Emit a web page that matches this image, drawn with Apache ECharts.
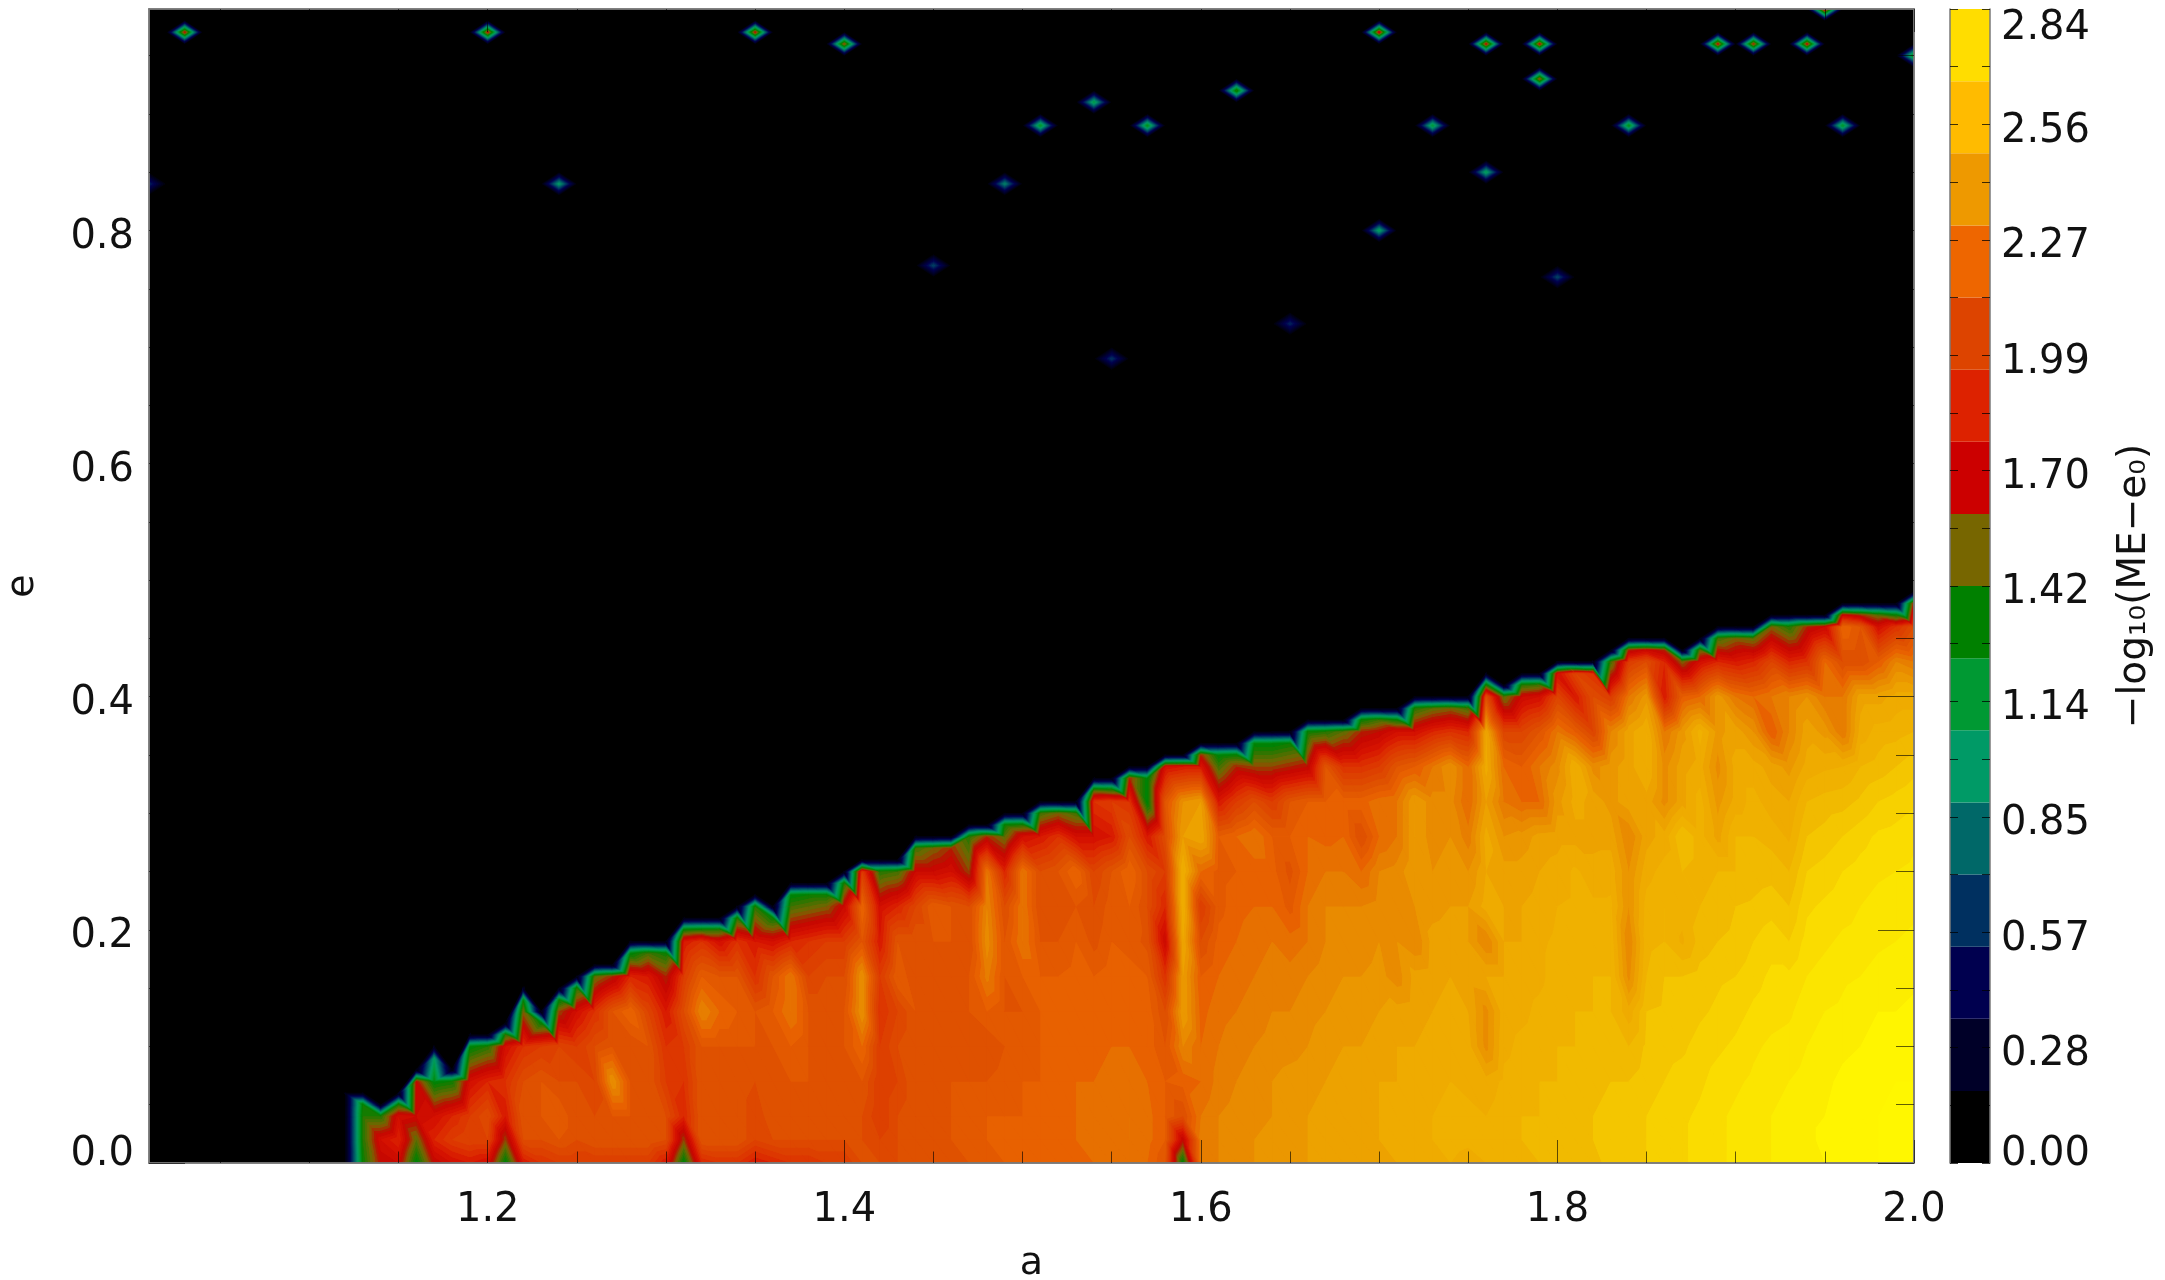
<!DOCTYPE html>
<html><head><meta charset="utf-8"><style>html,body{margin:0;padding:0;background:#fff}#c{width:2165px;height:1280px}</style>
<script src="https://cdn.jsdelivr.net/npm/echarts@6/dist/echarts.min.js"></script></head><body><div id="c"></div>
<script>
const aColumns=[1.12,1.13,1.14,1.15,1.16,1.17,1.18,1.19,1.2,1.21,1.22,1.23,1.24,1.25,1.26,1.27,1.28,1.29,1.3,1.31,1.32,1.33,1.34,1.35,1.36,1.37,1.38,1.39,1.4,1.41,1.42,1.43,1.44,1.45,1.46,1.47,1.48,1.49,1.5,1.51,1.52,1.53,1.54,1.55,1.56,1.57,1.58,1.59,1.6,1.61,1.62,1.63,1.64,1.65,1.66,1.67,1.68,1.69,1.7,1.71,1.72,1.73,1.74,1.75,1.76,1.77,1.78,1.79,1.8,1.81,1.82,1.83,1.84,1.85,1.86,1.87,1.88,1.89,1.9,1.91,1.92,1.93,1.94,1.95,1.96,1.97,1.98,1.99,2.0];
const edgeTop=[.06,.06,.05,.06,.08,.10,.08,.11,.11,.12,.15,.13,.15,.16,.17,.17,.19,.19,.19,.21,.21,.21,.22,.23,.22,.24,.24,.24,.25,.26,.26,.26,.28,.28,.28,.29,.29,.30,.30,.31,.31,.31,.33,.33,.34,.34,.35,.35,.36,.36,.36,.37,.37,.37,.38,.38,.38,.39,.39,.39,.40,.40,.40,.40,.42,.41,.42,.42,.43,.43,.43,.44,.45,.45,.45,.44,.45,.46,.46,.46,.47,.47,.47,.47,.48,.48,.48,.48,.49];
const eRows=[0,.02,.04,.07,.10,.13,.16,.19,.22,.25,.28,.31,.34,.37,.40,.43,.46];
const meValues=[
[0,0,0,0],
[1.25,1.3,1.3,1.25],
[1.6,1.7,1.3],
[1.65,1.8,1.7,1.3],
[1.2,1.4,1.65,1.6],
[1.6,1.8,1.7,1.2,.9],
[1.7,1.9,1.8,1.25],
[1.75,1.95,1.9,1.7,1.2],
[1.7,1.95,2.0,1.8,1.3],
[1.2,1.5,1.75,1.85,1.7,1.3],
[1.75,2.0,2.05,2.0,1.85,1.45,1.2],
[1.85,2.0,2.05,2.05,1.9,1.25],
[1.9,2.05,2.1,2.0,1.95,1.5,1.2],
[1.9,2.0,2.0,2.0,1.9,1.7,1.3],
[1.9,2.05,2.0,1.95,2.0,1.85,1.4],
[1.9,2.05,2.05,2.3,2.05,2.05,1.55],
[1.9,2.05,2.05,2.05,2.0,2.15,1.8,1.2],
[1.9,2.05,2.05,2.05,2.05,1.95,1.75,1.35],
[1.75,2.0,2.0,1.9,1.85,1.75,1.55,1.25],
[1.2,1.5,1.8,1.85,1.9,2.0,1.9,1.75,1.25],
[1.8,2.05,2.05,2.05,2.05,2.25,2.1,1.85,1.3],
[1.85,2.05,2.05,2.05,2.05,2.15,2.05,1.7,1.3],
[1.85,2.05,2.05,2.05,2.05,2.1,2.05,1.85,1.3],
[1.75,1.95,1.95,2.0,2.05,2.05,1.85,1.75,1.3],
[1.8,2.0,2.05,2.05,2.05,2.1,2.05,1.7,1.25],
[1.85,2.0,2.05,2.05,2.1,2.2,2.2,1.8,1.35,1.2],
[1.85,2.0,2.05,2.05,2.05,2.05,1.95,1.85,1.4,1.25],
[1.9,2.0,2.0,2.05,2.05,2.05,2.0,1.9,1.45,1.25],
[1.9,2.0,2.0,2.05,2.05,2.05,2.0,1.9,1.65,1.3],
[2.0,2.0,2.0,2.05,2.15,2.3,2.3,2.05,2.15,1.9],
[2.0,1.95,1.9,1.9,1.9,1.85,1.9,1.75,1.7,1.3],
[2.0,2.0,2.0,1.95,2.0,1.95,2.1,2.05,1.8,1.35],
[2.0,2.05,2.05,2.05,2.05,2.05,2.0,2.05,1.95,1.65,1.35],
[2.0,2.05,2.05,2.05,2.05,2.0,2.05,2.05,2.1,1.65,1.45],
[2.03,2.05,2.05,2.05,2.05,2.05,2.05,2.05,2.05,1.7,1.55],
[2.05,2.08,2.08,2.05,2.05,2.05,2.05,2.0,2.0,1.5,1.3],
[2.08,2.1,2.1,2.05,2.0,2.1,2.22,2.28,2.25,2.2,1.55],
[2.1,2.1,2.1,2.08,2.05,2.05,2.05,2.05,2.0,1.8,1.4,1.25],
[2.12,2.12,2.1,2.1,2.08,2.05,2.1,2.2,2.2,2.2,1.7,1.3],
[2.13,2.13,2.12,2.1,2.1,2.1,2.1,2.05,2.0,2.0,1.75,1.35],
[2.15,2.15,2.15,2.13,2.12,2.1,2.1,2.05,2.0,2.05,1.85,1.45],
[2.15,2.15,2.15,2.15,2.13,2.13,2.12,2.1,2.05,2.15,1.7,1.35],
[2.15,2.17,2.17,2.15,2.13,2.13,2.1,2.03,2.0,1.95,1.7,1.85,1.35],
[2.17,2.18,2.18,2.17,2.15,2.13,2.13,2.1,2.08,2.05,1.75,1.9,1.3],
[2.18,2.2,2.2,2.17,2.15,2.13,2.12,2.08,2.1,2.15,2.0,1.85,1.55],
[2.15,2.17,2.17,2.15,2.13,2.13,2.1,2.03,2.0,2.0,1.75,1.2,1.2],
[2.05,2.1,2.1,2.1,2.05,2.0,1.85,1.65,1.8,1.9,2.0,2.05,1.7],
[1.2,1.6,2.0,2.12,2.25,2.35,2.35,2.4,2.45,2.45,2.35,2.3,1.75],
[2.2,2.22,2.2,2.15,2.15,2.13,2.1,2.0,1.9,2.15,2.4,2.35,1.75,1.55],
[2.25,2.25,2.25,2.22,2.2,2.18,2.15,2.12,2.08,2.08,2.1,1.75,1.35,1.2],
[2.27,2.27,2.27,2.25,2.23,2.2,2.18,2.15,2.13,2.1,2.15,1.9,1.55,1.25],
[2.3,2.3,2.28,2.27,2.25,2.22,2.2,2.18,2.15,2.12,2.2,2.0,1.5,1.2],
[2.32,2.32,2.3,2.3,2.27,2.25,2.22,2.2,2.15,2.12,2.1,1.9,1.5,1.2],
[2.32,2.33,2.33,2.32,2.28,2.25,2.22,2.17,2.08,2.03,2.1,2.05,1.55,1.25],
[2.35,2.35,2.35,2.33,2.3,2.28,2.25,2.2,2.2,2.15,2.15,2.1,1.6,1.25],
[2.36,2.37,2.37,2.35,2.33,2.3,2.28,2.25,2.25,2.2,2.13,2.1,2.05,1.3],
[2.37,2.38,2.38,2.37,2.35,2.32,2.3,2.28,2.25,2.2,2.15,2.13,1.85,1.4],
[2.38,2.39,2.39,2.38,2.35,2.33,2.3,2.27,2.25,2.15,2.0,2.13,1.85,1.55,1.25],
[2.38,2.4,2.4,2.4,2.37,2.35,2.32,2.3,2.27,2.25,2.15,2.18,1.9,1.6,1.35],
[2.4,2.42,2.42,2.4,2.4,2.37,2.27,2.3,2.3,2.27,2.2,2.2,2.05,1.7,1.25],
[2.42,2.44,2.44,2.42,2.4,2.38,2.37,2.25,2.3,2.35,2.35,2.35,2.1,1.7,1.3],
[2.44,2.45,2.45,2.43,2.42,2.4,2.38,2.37,2.33,2.3,2.27,2.27,2.2,1.8,1.4],
[2.45,2.47,2.47,2.45,2.43,2.42,2.4,2.38,2.35,2.33,2.3,2.27,2.3,1.85,1.45],
[2.43,2.46,2.46,2.44,2.42,2.4,2.38,2.35,2.35,2.3,2.22,2.15,2.15,1.8,1.35],
[2.45,2.47,2.45,2.42,2.28,2.28,2.4,2.25,2.42,2.4,2.42,2.35,2.42,2.4,2.0,1.3],
[2.47,2.48,2.48,2.46,2.44,2.43,2.4,2.4,2.4,2.37,2.3,2.2,2.15,1.95,1.4],
[2.48,2.5,2.5,2.47,2.46,2.44,2.43,2.4,2.4,2.37,2.32,2.15,2.1,1.95,1.65,1.3],
[2.5,2.5,2.5,2.5,2.47,2.46,2.44,2.44,2.42,2.4,2.37,2.15,2.2,2.05,1.7,1.35],
[2.5,2.52,2.52,2.5,2.5,2.48,2.47,2.46,2.45,2.42,2.38,2.33,2.28,2.2,1.95,1.7],
[2.52,2.53,2.53,2.52,2.5,2.5,2.48,2.47,2.46,2.46,2.38,2.42,2.45,2.1,1.75,1.95],
[2.54,2.55,2.55,2.53,2.52,2.5,2.5,2.47,2.46,2.42,2.38,2.38,2.28,1.95,2.0,1.85],
[2.56,2.57,2.57,2.55,2.53,2.5,2.5,2.48,2.46,2.43,2.38,2.33,2.33,2.25,1.9,1.35],
[2.57,2.58,2.57,2.55,2.5,2.42,2.28,2.25,2.3,2.3,2.25,2.38,2.38,2.38,2.2,1.9,1.55],
[2.6,2.6,2.6,2.58,2.56,2.55,2.5,2.48,2.47,2.43,2.38,2.38,2.45,2.45,2.33,2.0,1.65],
[2.62,2.62,2.62,2.6,2.58,2.56,2.55,2.5,2.5,2.47,2.42,2.28,2.28,2.2,1.75,1.8,1.55],
[2.64,2.64,2.64,2.62,2.59,2.56,2.55,2.44,2.47,2.5,2.55,2.38,2.38,2.33,2.1,1.45],
[2.67,2.67,2.66,2.64,2.62,2.59,2.57,2.52,2.5,2.47,2.47,2.47,2.42,2.47,2.15,1.7,1.4],
[2.69,2.69,2.69,2.67,2.64,2.61,2.59,2.55,2.53,2.5,2.38,2.33,2.28,2.33,2.33,1.8,1.35],
[2.71,2.71,2.71,2.69,2.66,2.63,2.6,2.56,2.55,2.5,2.5,2.42,2.42,2.38,2.2,1.75,1.45],
[2.73,2.73,2.73,2.71,2.69,2.66,2.63,2.6,2.56,2.52,2.5,2.47,2.42,2.3,2.15,1.8,1.4],
[2.75,2.75,2.75,2.73,2.71,2.68,2.66,2.63,2.58,2.53,2.48,2.42,2.38,2.1,2.2,1.95,1.45],
[2.77,2.77,2.77,2.75,2.72,2.69,2.66,2.6,2.55,2.5,2.44,2.4,2.33,2.25,2.25,1.8,1.3],
[2.79,2.79,2.79,2.77,2.75,2.73,2.7,2.67,2.64,2.6,2.55,2.5,2.42,2.38,2.3,1.85,1.55],
[2.8,2.81,2.8,2.79,2.77,2.75,2.72,2.69,2.66,2.62,2.57,2.52,2.44,2.33,2.2,2.15,1.65],
[2.82,2.82,2.82,2.81,2.79,2.76,2.74,2.71,2.68,2.65,2.6,2.53,2.45,2.2,2.2,2.0,2.15,1.65],
[2.83,2.84,2.84,2.82,2.8,2.78,2.75,2.72,2.7,2.67,2.63,2.56,2.5,2.42,2.38,2.0,2.05,1.55],
[2.85,2.85,2.85,2.84,2.82,2.8,2.77,2.74,2.72,2.69,2.66,2.6,2.52,2.47,2.38,2.1,1.7,1.4],
[2.85,2.86,2.86,2.85,2.83,2.8,2.78,2.75,2.73,2.7,2.67,2.62,2.55,2.48,2.42,2.25,1.85,1.25],
[2.86,2.86,2.86,2.85,2.83,2.81,2.79,2.76,2.74,2.71,2.69,2.64,2.58,2.5,2.42,2.2,2.0,1.6]
];
const spikes=[[1.03,.97,1.6],[1.2,.97,1.6],[1.35,.97,1.6],[1.4,.96,1.5],[1.7,.97,1.65],[1.76,.96,1.6],[1.79,.96,1.6],[1.79,.93,1.5],[1.89,.96,1.6],[1.91,.96,1.55],[1.94,.96,1.6],[1.95,.99,1.75],[2.0,.95,1.2],[1.62,.92,1.3],[1.54,.91,1.0],[1.51,.89,1.1],[1.57,.89,1.15],[1.73,.89,1.05],[1.84,.89,1.15],[1.96,.89,1.1],[1.01,.84,.5],[1.24,.84,.9],[1.49,.84,.8],[1.76,.85,.95],[1.7,.8,.95],[1.45,.77,.6],[1.8,.76,.6],[1.65,.72,.5],[1.55,.69,.55]];
const aMajorTicks=[1.2,1.4,1.6,1.8,2.0];
const aMinorTicks=[1.05,1.1,1.15,1.25,1.3,1.35,1.45,1.5,1.55,1.65,1.7,1.75,1.85,1.9,1.95];
const eMajorTicks=[0,.2,.4,.6,.8];
const eMinorTicks=[.05,.1,.15,.25,.3,.35,.45,.5,.55,.65,.7,.75,.85,.9,.95];
const barLabels=[0,.284,.568,.852,1.136,1.42,1.704,1.988,2.272,2.556,2.84];
const barColors=['#000000','#000028','#00004f','#003060','#006868','#009a66','#009933','#008000','#776600','#cc0000','#dd2200','#dd4400','#ee6600','#ee9900','#ffbb00','#ffdd00'];
const barStep=.1775;
const ramp=[[0,'#000000'],[.18,'#000028'],[.36,'#00004f'],[.53,'#003060'],[.71,'#006868'],[.89,'#009a66'],[1.07,'#009933'],[1.24,'#008000'],[1.45,'#776600'],[1.6,'#c40500'],[1.75,'#d81500'],[1.85,'#dd3300'],[1.95,'#dd4400'],[2.05,'#e05500'],[2.13,'#e86200'],[2.2,'#e67700'],[2.31,'#ea9400'],[2.4,'#eea800'],[2.5,'#f0b400'],[2.6,'#f5cc00'],[2.68,'#fadd00'],[2.75,'#fbe900'],[2.82,'#fff500'],[2.9,'#fff800']];

function rgb(h){return [1,3,5].map(i=>parseInt(h.substr(i,2),16));}
function colorFor(v){
  for(let i=1;i<ramp.length;i++) if(v<=ramp[i][0]){
    const t=(v-ramp[i-1][0])/(ramp[i][0]-ramp[i-1][0]),a=rgb(ramp[i-1][1]),b=rgb(ramp[i][1]);
    return 'rgb('+a.map((c,k)=>Math.round(c+(b[k]-c)*t)).join(',')+')';
  }
  return ramp[ramp.length-1][1];
}
const bandStep=.05;
const bandColor=[];for(let k=0;k<60;k++)bandColor.push(colorFor((k+.5)*bandStep));
function clip(poly,level,above){
  const out=[];
  for(let i=0;i<poly.length;i++){
    const p=poly[i],q=poly[(i+1)%poly.length];
    const pin=above?p[2]>=level:p[2]<=level,qin=above?q[2]>=level:q[2]<=level;
    if(pin)out.push(p);
    if(pin!==qin){const t=(level-p[2])/(q[2]-p[2]);out.push([p[0]+(q[0]-p[0])*t,p[1]+(q[1]-p[1])*t,level]);}
  }
  return out;
}
function triBands(tri,children,lw){
  const vs=tri.map(p=>p[2]),lo=Math.floor(Math.min(...vs)/bandStep),hi=Math.floor(Math.max(...vs)/bandStep);
  for(let k=Math.max(lo,1);k<=hi;k++){
    let poly=clip(tri,k*bandStep,true);
    if(poly.length>2)poly=clip(poly,(k+1)*bandStep,false);
    if(poly.length>2)children.push({type:'polygon',shape:{points:poly.map(p=>[p[0],p[1]])},style:lw?{fill:bandColor[k],stroke:bandColor[k],lineWidth:lw}:{fill:bandColor[k]},silent:true});
  }
}
const columns=meValues.map((vals,i)=>{
  const top=edgeTop[i],nodes=[];
  vals.slice(0,-1).forEach((v,j)=>{if(eRows[j]<top-.011)nodes.push([eRows[j],v]);});
  nodes.push([top-.01,vals[vals.length-1]]);nodes.push([top,0]);
  return nodes;
});
function renderMesh(lw){return function(params,api){
  const i=params.dataIndex,A=columns[i],B=columns[i+1],a0=aColumns[i],a1=aColumns[i+1],children=[];
  const pt=(a,n)=>{const c=api.coord([a,n[0]]);return [c[0],c[1],n[1]];};
  let p=0,q=0;
  while(p<A.length-1||q<B.length-1){
    let advA;
    if(p>=A.length-1)advA=false;else if(q>=B.length-1)advA=true;else advA=A[p+1][0]<=B[q+1][0];
    const tri=advA?[pt(a0,A[p]),pt(a1,B[q]),pt(a0,A[p+1])]:[pt(a0,A[p]),pt(a1,B[q]),pt(a1,B[q+1])];
    triBands(tri,children,lw);
    if(advA)p++;else q++;
  }
  return {type:'group',children};
};}
function renderSpike(lw){return function(params,api){
  const a=api.value(0),e=api.value(1),v=api.value(2),children=[];
  const c=api.coord([a,e]),c3=[c[0],c[1],v];
  const around=[[a-.01,e],[a,e+.01],[a+.01,e],[a,e-.01]].map(d=>{const m=api.coord(d);return [m[0],m[1],0];});
  for(let i=0;i<4;i++)triBands([c3,around[i],around[(i+1)%4]],children,lw);
  return {type:'group',children};
};}
function renderBar(params,api){
  const k=params.dataIndex,p0=api.coord([0,api.value(0)]),p1=api.coord([1,api.value(1)]);
  return {type:'rect',shape:{x:p0[0],y:p1[1],width:p1[0]-p0[0],height:p0[1]-p1[1]},style:{fill:barColors[k]},silent:true};
}
const font='DejaVu Sans',tickCol='rgba(0,0,0,.62)',frame={show:true,lineStyle:{color:'#7a7a7a',width:1.5}};
const labelSize=40,textCol='#111';
const labelRich={m:{fontFamily:font,fontSize:labelSize,color:textCol,padding:[14,0,0,0]},b:{fontFamily:font,fontSize:labelSize,color:textCol,lineHeight:16},t:{fontFamily:font,fontSize:labelSize,color:textCol}};
function xAx(pos,vals,len,labels){return {type:'value',gridIndex:0,min:1.01,max:2,position:pos,z:10,splitLine:{show:false},axisLine:{...frame,onZero:false},
  axisTick:{show:true,inside:true,length:len,customValues:vals,lineStyle:{color:tickCol,width:1}},
  axisLabel:labels?{show:true,customValues:vals,formatter:v=>v.toFixed(1),fontFamily:font,fontSize:labelSize,color:textCol,margin:28,hideOverlap:false,showMinLabel:true,showMaxLabel:true}:{show:false}};}
function yAx(pos,vals,len,labels){return {type:'value',gridIndex:0,min:0,max:.99,position:pos,z:10,splitLine:{show:false},axisLine:{...frame,onZero:false},
  axisTick:{show:true,inside:true,length:len,customValues:vals,lineStyle:{color:tickCol,width:1}},
  axisLabel:labels?{show:true,customValues:vals,formatter:v=>'{'+(v===0?'b':'m')+'|'+v.toFixed(1)+'}',rich:labelRich,margin:15,verticalAlignMinLabel:'bottom',showMinLabel:true}:{show:false}};}
const xs=[xAx('bottom',aMajorTicks,23,true),xAx('bottom',aMinorTicks,11.5,false),xAx('top',aMajorTicks,23,false),xAx('top',aMinorTicks,11.5,false)];
xs[0].name='a';xs[0].nameLocation='middle';xs[0].nameGap=82;xs[0].nameTextStyle={fontFamily:font,fontSize:38,color:textCol};
const ys=[yAx('left',eMajorTicks,36,true),yAx('left',eMinorTicks,18,false),yAx('right',eMajorTicks,36,false),yAx('right',eMinorTicks,18,false)];
ys[0].name='e';ys[0].nameLocation='middle';ys[0].nameGap=107;ys[0].nameRotate=90;ys[0].nameTextStyle={fontFamily:font,fontSize:38,color:textCol};
const barTicks={show:true,inside:true,length:8,lineStyle:{color:'rgba(0,0,0,.75)',width:1}};
const meshData=aColumns.slice(0,-1).map(a=>[a,0]);
const option={animation:false,backgroundColor:'#fff',
 grid:[{left:149,top:9,width:1765,height:1154,show:true,backgroundColor:'#000',borderWidth:0,outerBoundsMode:'none'},{left:1950,top:9,width:40,height:1154,show:false,outerBoundsMode:'none'}],
 xAxis:[...xs,{type:'value',gridIndex:1,min:0,max:1,show:false}],
 yAxis:[...ys,
  {type:'value',gridIndex:1,min:0,max:2.84,interval:.142,position:'left',z:10,splitLine:{show:false},axisLine:frame,axisTick:barTicks,axisLabel:{show:false}},
  {type:'value',gridIndex:1,min:0,max:2.84,interval:.142,position:'right',z:10,splitLine:{show:false},axisLine:frame,axisTick:barTicks,
   axisLabel:{show:true,customValues:barLabels,formatter:v=>'{'+(v===0?'b':v===2.84?'t':'m')+'|'+v.toFixed(2)+'}',rich:labelRich,align:'right',margin:100,verticalAlignMinLabel:'bottom',verticalAlignMaxLabel:'top',showMinLabel:true,showMaxLabel:true},
   name:'\u2212log\u2081\u2080(ME\u2212e\u2080)',nameLocation:'middle',nameGap:125,nameRotate:90,nameTextStyle:{fontFamily:font,fontSize:39,color:textCol}}],
 series:[
  {type:'custom',xAxisIndex:0,yAxisIndex:0,clip:true,silent:true,z:2,renderItem:renderMesh(1.6),data:meshData,encode:{x:0,y:1}},
  {type:'custom',xAxisIndex:0,yAxisIndex:0,clip:true,silent:true,z:3,renderItem:renderMesh(0),data:meshData,encode:{x:0,y:1}},
  {type:'custom',xAxisIndex:0,yAxisIndex:0,clip:true,silent:true,z:3,renderItem:renderSpike(.8),data:spikes,encode:{x:0,y:1}},
  {type:'custom',xAxisIndex:4,yAxisIndex:4,silent:true,z:2,renderItem:renderBar,data:barColors.map((c,k)=>[k*barStep,(k+1)*barStep]),encode:{y:[0,1]}}
 ]};
const chart=echarts.init(document.getElementById('c'),null,{renderer:'canvas'});
chart.setOption(option);
</script></body></html>
